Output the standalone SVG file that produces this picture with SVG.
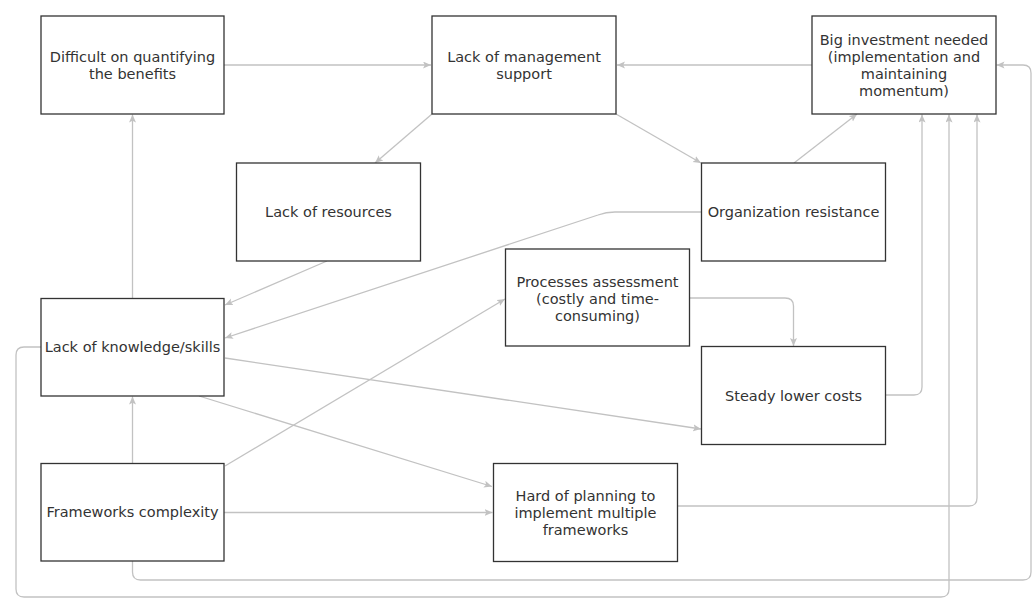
<svg xmlns="http://www.w3.org/2000/svg" width="1036" height="599" viewBox="0 0 1036 599">
<style>
.box{fill:#fff;stroke:#333;stroke-width:1.3}
.t{font-family:"DejaVu Sans","Verdana",sans-serif;font-size:14.5px;fill:#333;text-anchor:middle}
.c{fill:none;stroke:#c2c2c2;stroke-width:1.3;marker-end:url(#ah)}
</style>
<defs>
<marker id="ah" markerUnits="userSpaceOnUse" markerWidth="9" markerHeight="8" refX="8" refY="3.5" orient="auto">
<path d="M0,0 L8,3.5 L0,7 L1.8,3.5 z" fill="#c2c2c2"/>
</marker>
</defs>
<rect width="1036" height="599" fill="#fff"/>
<g id="connectors">
<path class="c" d="M224,65 H431"/>
<path class="c" d="M812,65 H617"/>
<path class="c" d="M432,114 L375,163"/>
<path class="c" d="M616,114 L701,163"/>
<path class="c" d="M794,163 L857,114"/>
<path class="c" d="M701,212 H615 Q606,212 598,215 L225,338"/>
<path class="c" d="M327,261 L225,305"/>
<path class="c" d="M132.5,298 V114.5"/>
<path class="c" d="M132.5,463 V396.5"/>
<path class="c" d="M225,466 L505,299"/>
<path class="c" d="M225,358 L701,429"/>
<path class="c" d="M199,396 L492,486.5"/>
<path class="c" d="M224,512.5 H492.5"/>
<path class="c" d="M689,298 H785 Q793.5,298 793.5,306 V346"/>
<path class="c" d="M885,395 H914 Q922,395 922,387 V114.5"/>
<path class="c" d="M677,506 H969 Q977,506 977,498 V114.5"/>
<path class="c" d="M132.5,561 V572 Q132.5,580 140.5,580 H1023 Q1031,580 1031,572 V73 Q1031,65 1023,65 H996.5"/>
<path class="c" d="M41,347 H24 Q16,347 16,355 V589 Q16,597 24,597 H941 Q949,597 949,589 V114.5"/>
</g>
<g id="n-difficult"><rect class="box" x="41" y="16" width="183" height="98"/><text class="t" x="132.5" y="61.5">Difficult on quantifying</text><text class="t" x="132.5" y="78.5">the benefits</text></g>
<g id="n-management"><rect class="box" x="432" y="16" width="184" height="98"/><text class="t" x="524" y="61.5">Lack of management</text><text class="t" x="524" y="78.5">support</text></g>
<g id="n-investment"><rect class="box" x="812" y="16" width="184" height="98"/><text class="t" x="904" y="44.5">Big investment needed</text><text class="t" x="904" y="61.5">(implementation and</text><text class="t" x="904" y="78.5">maintaining</text><text class="t" x="904" y="95.5">momentum)</text></g>
<g id="n-resources"><rect class="box" x="236.5" y="163" width="184" height="98"/><text class="t" x="328.5" y="217">Lack of resources</text></g>
<g id="n-resistance"><rect class="box" x="701.5" y="163" width="184" height="98"/><text class="t" x="793.5" y="217">Organization resistance</text></g>
<g id="n-knowledge"><rect class="box" x="41" y="298.5" width="183" height="97.5"/><text class="t" x="132.5" y="352">Lack of knowledge/skills</text></g>
<g id="n-processes"><rect class="box" x="505.5" y="249" width="184" height="97"/><text class="t" x="597.5" y="286.5">Processes assessment</text><text class="t" x="597.5" y="303.5">(costly and time-</text><text class="t" x="597.5" y="320.5">consuming)</text></g>
<g id="n-steady"><rect class="box" x="701.5" y="346.5" width="184" height="98"/><text class="t" x="793.5" y="400.5">Steady lower costs</text></g>
<g id="n-frameworks"><rect class="box" x="41" y="463.5" width="183" height="97.5"/><text class="t" x="132.5" y="517">Frameworks complexity</text></g>
<g id="n-planning"><rect class="box" x="493.5" y="463.5" width="184" height="98"/><text class="t" x="585.5" y="500.5">Hard of planning to</text><text class="t" x="585.5" y="517.5">implement multiple</text><text class="t" x="585.5" y="534.5">frameworks</text></g>
</svg>
